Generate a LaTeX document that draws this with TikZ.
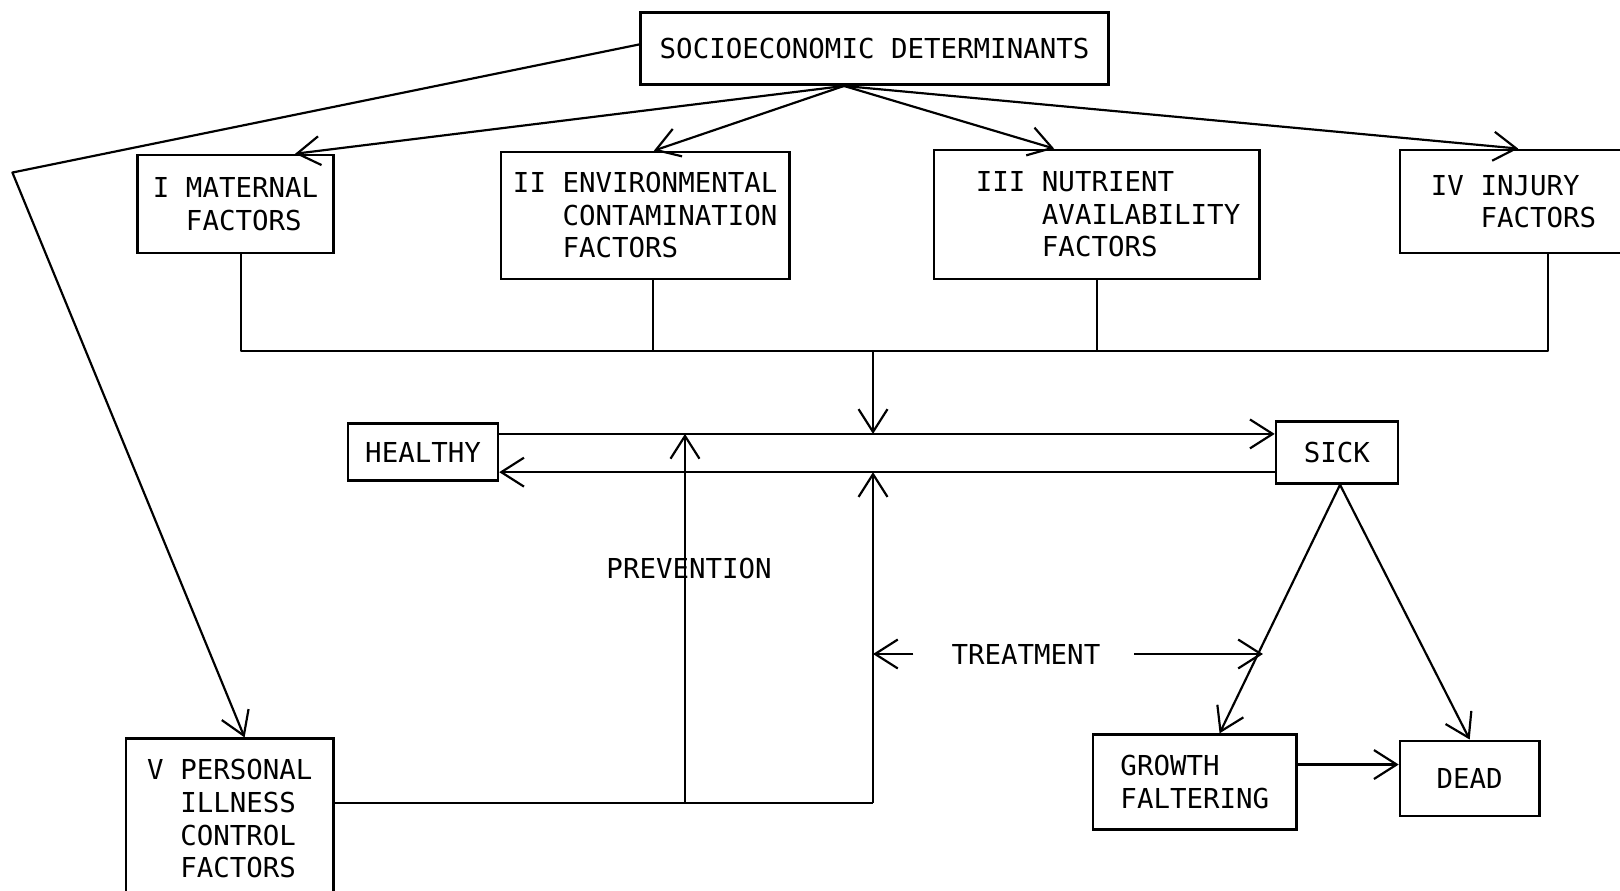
\documentclass[tikz,border=0pt]{standalone}
\usepackage{fontspec}
\setmonofont{DejaVu Sans Mono}
\usetikzlibrary{arrows.meta,calc}
\begin{document}
\begin{tikzpicture}[x=0.25mm,y=-0.25mm,
  every node/.style={font=\ttfamily\fontsize{18.9pt}{22.4pt}\selectfont},
  box/.style={draw, line width=1.7pt, inner sep=0pt, align=left},
  link/.style={line width=1.5pt, line join=round},
  arr/.style={link, -{Straight Barb[length=5.5mm,width=7mm]}},
]
\useasboundingbox (0,0) rectangle (1568,862);
\clip (0,0) rectangle (1568,862);

% determinant boxes
\node[box, minimum width=453*0.25mm, minimum height=70*0.25mm] (socio) at (846.5,47) {SOCIOECONOMIC DETERMINANTS};
\node[box, minimum width=190*0.25mm, minimum height=95*0.25mm] (mat) at (228,197.5) {I\ MATERNAL\\\hphantom{I\ }FACTORS};
\node[box, minimum width=279*0.25mm, minimum height=123*0.25mm] (env) at (624.5,208.5) {II ENVIRONMENTAL\\\hphantom{II\ }CONTAMINATION\\\hphantom{II\ }FACTORS};
\node[box, minimum width=315*0.25mm, minimum height=125*0.25mm] (nut) at (1061.5,207.5) {\hspace*{5.5mm}III NUTRIENT\\\hspace*{5.5mm}\hphantom{III\ }AVAILABILITY\\\hspace*{5.5mm}\hphantom{III\ }FACTORS};
\node[box, minimum width=220*0.25mm, minimum height=100*0.25mm] (inj) at (1465,195) {IV INJURY\\\hphantom{IV\ }FACTORS};
\node[box, minimum width=201*0.25mm, minimum height=155*0.25mm] (pers) at (222.5,792.5) {V PERSONAL\\\hphantom{V\ }ILLNESS\\\hphantom{V\ }CONTROL\\\hphantom{V\ }FACTORS};

% health states
\node[box, minimum width=145*0.25mm, minimum height=55*0.25mm] (healthy) at (409.5,437.5) {HEALTHY};
\node[box, minimum width=118*0.25mm, minimum height=60*0.25mm] (sick) at (1294,438) {SICK};
\node[box, minimum width=197*0.25mm, minimum height=92*0.25mm] (grow) at (1156.5,757) {GROWTH\\FALTERING};
\node[box, minimum width=135*0.25mm, minimum height=73*0.25mm] (dead) at (1422.5,753.5) {DEAD};

% labels
\node (prev) at (667,550) {PREVENTION};
\node (treat) at (993,633) {TREATMENT};

% helper coordinates
\coordinate (fan) at ($(socio.south west)!0.435!(socio.south east)$);
\coordinate (bend) at (12,167);
\coordinate (busY) at (0,340);
\coordinate (chTop) at (0,420);
\coordinate (chBot) at (0,457);
\coordinate (lowY) at (0,777);
\coordinate (gdY) at (0,740);
\coordinate (mid) at (845,340);
\coordinate (prevX) at (663,0);
\coordinate (treatX) at (845,0);

% fan from the socioeconomic determinants
\draw[arr] (fan) -- ($(mat.north west)!0.8!(mat.north east)$);
\draw[arr] (fan) -- ($(env.north west)!0.53!(env.north east)$);
\draw[arr] (fan) -- ($(nut.north west)!0.37!(nut.north east)$);
\draw[arr] (fan) -- ($(inj.north west)!0.52!(inj.north east)$);
\draw[arr] ([yshift=1mm]socio.west) -- (bend) -- ($(pers.north west)!0.57!(pers.north east)$);

% collecting bus
\coordinate (matB) at ($(mat.south west)!0.526!(mat.south east)$);
\coordinate (envB) at ($(env.south west)!0.527!(env.south east)$);
\coordinate (nutB) at ($(nut.south west)!0.5!(nut.south east)$);
\coordinate (injB) at ($(inj.south west)!0.65!(inj.south east)$);
\draw[link] (matB) -- (matB |- busY) -- (injB |- busY) -- (injB);
\draw[link] (envB) -- (envB |- busY);
\draw[link] (nutB) -- (nutB |- busY);
\draw[arr] (mid) -- (mid |- chTop);

% healthy / sick channel
\draw[arr] (healthy.east |- chTop) -- (sick.west |- chTop);
\draw[arr] (sick.west |- chBot) -- (healthy.east |- chBot);

% prevention and treatment
\draw[link] (pers.east |- lowY) -- (treatX |- lowY);
\draw[arr] (prevX |- lowY) -- (prevX |- chTop);
\draw[arr] (treatX |- lowY) -- (treatX |- chBot);

% outcomes
\coordinate (sickS) at ($(sick.south west)!0.525!(sick.south east)$);
\coordinate (growT) at ($(grow.north west)!0.62!(grow.north east)$);
\coordinate (hit) at ($(sickS)!0.64!(growT)$);
\draw[arr] (sickS) -- (growT);
\draw[arr] (sickS) -- (dead.north);
\draw[arr] (grow.east |- gdY) -- (dead.west |- gdY);

\draw[arr] ([xshift=-8mm]treat.west) -- (treatX |- treat.west);
\draw[arr] ([xshift=7mm]treat.east) -- (hit |- treat.east);
\end{tikzpicture}
\end{document}
